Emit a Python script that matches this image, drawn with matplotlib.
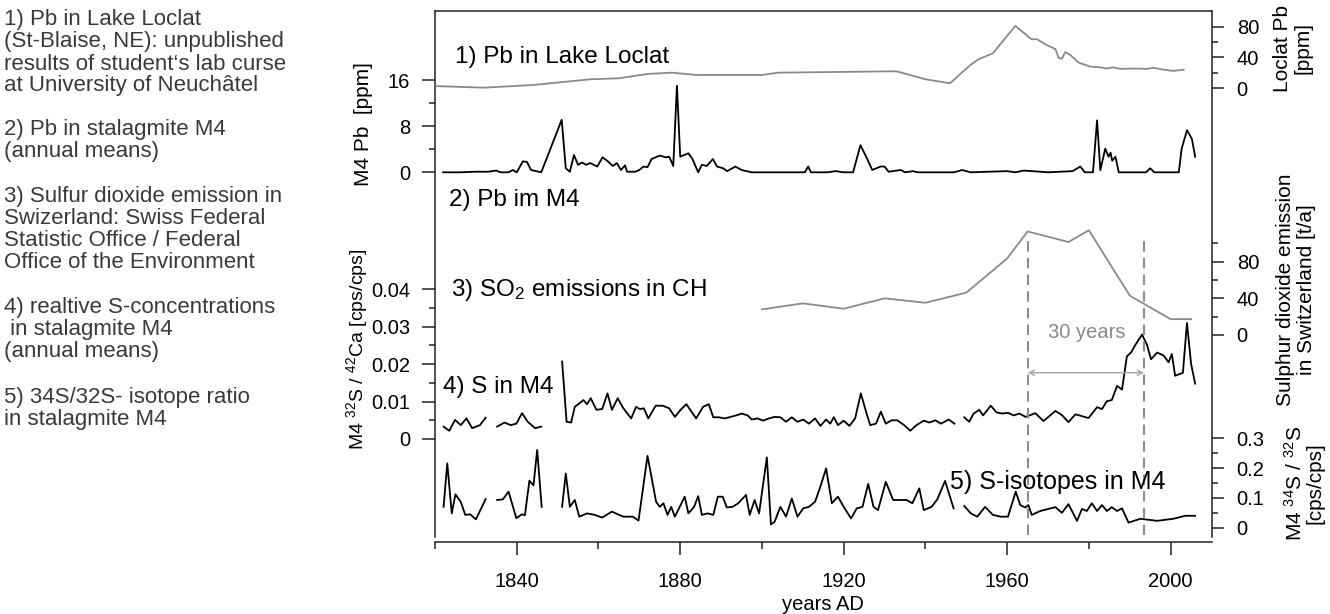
import numpy as np
import matplotlib
matplotlib.use('Agg')
import matplotlib.pyplot as plt
from matplotlib.ticker import FixedLocator, NullFormatter, FixedFormatter

plt.rcParams['font.family'] = ['Liberation Sans', 'DejaVu Sans']
plt.rcParams['mathtext.fontset'] = 'custom'
plt.rcParams['mathtext.rm'] = 'Liberation Sans'
plt.rcParams['mathtext.it'] = 'Liberation Sans:italic'
plt.rcParams['mathtext.bf'] = 'Liberation Sans:bold'

# ---------------- data ----------------
# 1) Pb in Lake Loclat [ppm]
loclat_years = [1820, 1832, 1844, 1858, 1865, 1872, 1878, 1884, 1900, 1904, 1931, 1933,
                1940, 1946, 1951, 1953, 1956.5, 1962, 1966, 1967.3, 1969.7, 1971.8, 1972.6,
                1973.4, 1974.2, 1975.4, 1977.5, 1980.3, 1982.8, 1984.4, 1986, 1987.7, 1991,
                1994.2, 1995.8, 1998.3, 2000.7, 2003.2]
loclat_pb = [2.9, 0.8, 4.3, 11.7, 13, 18.6, 20.3, 17.3, 17.3, 20.3, 22, 22,
             11.7, 6.5, 30.3, 37.7, 45.4, 81, 63.7, 63.8, 56, 51, 39.4,
             38.4, 47, 43.5, 33.3, 28.2, 27.2, 25.7, 27.2, 25.2, 25.7,
             25.2, 26.6, 24.2, 22.6, 24.2]

# 2) Pb in stalagmite M4 [ppm]
m4pb_years = [1822, 1826, 1830, 1833, 1835, 1836, 1838, 1839, 1840, 1841.5, 1842.5, 1843.5,
              1846, 1851, 1852, 1853, 1854, 1855, 1856, 1857, 1858, 1859.7, 1861, 1862.3,
              1863.5, 1864.5, 1865.5, 1866.5, 1867, 1869, 1870, 1871, 1872, 1873, 1875,
              1876.5, 1877.3, 1878.3, 1879.2, 1880, 1882, 1883, 1884.4, 1885.3, 1886.5,
              1888, 1889, 1890.5, 1891.5, 1893.5, 1895, 1897.5, 1910.5, 1911.3, 1912, 1916,
              1918, 1920, 1922.3, 1924.1, 1925.5, 1927, 1929, 1930, 1931, 1934, 1935, 1937,
              1938, 1947, 1949, 1951, 1960, 1962, 1964, 1970, 1976, 1977.9, 1979, 1981, 1982,
              1982.8, 1984, 1984.8, 1985.3, 1985.7, 1986.5, 1987.3, 1994, 1995, 1996, 2002,
              2002.7, 2004, 2005.2, 2006]
m4pb_vals = [0, 0, 0.1, 0.1, 0.3, 0, 0, 0.4, 0, 1.9, 1.8, 0.4,
             0, 9.1, 0.7, 0.1, 3.0, 1.3, 1.7, 1.3, 1.6, 1.0, 2.6, 1.9,
             1.1, 1.6, 0.4, 1.2, 0.1, 0.1, 0.4, 1.0, 0.9, 2.3, 2.9,
             2.6, 2.7, 1.1, 15.0, 2.7, 3.3, 2.3, 0, 1.3, 1.1,
             2.3, 1.0, 0.7, 0.2, 1.0, 0.4, 0, 0, 1.0, 0, 0,
             0.2, 0, 0, 4.7, 2.7, 0.4, 1.0, 1.0, 0.1, 0.4, 0, 0.2,
             0, 0, 0.4, 0, 0.2, 0, 0.3, 0, 0.2, 1.0, 0, 0, 9.0,
             0.35, 4.1, 2.7, 3.4, 2.0, 2.7, 0, 0, 0.7, 0, 0,
             4.1, 7.3, 5.8, 2.7]

# 3) SO2 emissions in Switzerland [t/a]
so2_years = [1900, 1910, 1920, 1930, 1940, 1950, 1960, 1965, 1975, 1980, 1990, 1992.5, 2000, 2005]
so2_vals = [28, 34.5, 28.7, 40, 35.2, 46.2, 83.6, 113, 101.5, 114.3, 43, 36.5, 17.3, 17.3]

# 4) S in M4, 32S/42Ca [cps/cps]  (NaN = gap)
s_years = [1822.1, 1823.5, 1824.9, 1826.3, 1827.7, 1829.1, 1831, 1832.4, np.nan,
           1835.2, 1837, 1838.5, 1839.9, 1841.3, 1842.7, 1844.5, 1846, np.nan,
           1851.1, 1852.2, 1853.3, 1854.2, 1855.3, 1856.3, 1857.2, 1858.1, 1859.5, 1860.9,
           1862.2, 1863.3, 1864.7, 1866.1, 1868.0, 1869.2, 1870.1, 1871.1, 1872.2, 1874.0,
           1875.7, 1877.3, 1878.7, 1880.1, 1881.5, 1883.9, 1885.6, 1887.0, 1888.1, 1889.5,
           1890.9, 1892.3, 1893.7, 1895.1, 1896.5, 1897.5, 1898.9, 1900.3, 1901.7, 1903.1,
           1904.5, 1905.9, 1907.3, 1908.7, 1910.1, 1911.5, 1913.0, 1914.3, 1915.7, 1916.7,
           1917.6, 1918.6, 1920.0, 1921.4, 1922.8, 1924.2, 1925.6, 1926.5, 1927.9, 1929.1,
           1930.3, 1931.7, 1933.1, 1934.8, 1936.3, 1937.8, 1939.6, 1941.0, 1942.4, 1943.8,
           1945.7, 1947.1, np.nan,
           1949.5, 1950.7, 1951.8, 1953.2, 1954.1, 1956.0, 1957.4, 1958.8, 1960.2, 1961.6,
           1963.0, 1964.5, 1966.9, 1968.9, 1971.8, 1973.4, 1975, 1976.7, 1979.9, 1982,
           1983.2, 1984.4, 1985.6, 1986.9, 1988.1, 1989.3, 1990.3, 1991.4, 1993, 1994.2,
           1995.2, 1996.7, 1998.3, 1999.5, 2000.3, 2001.1, 2003, 2004, 2005, 2006]
s_vals = [0.0033, 0.0022, 0.0051, 0.0037, 0.0055, 0.0029, 0.0037, 0.0057, np.nan,
          0.0033, 0.0044, 0.0037, 0.0041, 0.0069, 0.0046, 0.0029, 0.0033, np.nan,
          0.0207, 0.0046, 0.0044, 0.0086, 0.0095, 0.0104, 0.0093, 0.0109, 0.0078, 0.0080,
          0.0122, 0.0078, 0.0109, 0.0082, 0.0055, 0.0086, 0.0080, 0.0082, 0.0055, 0.0089,
          0.0089, 0.0082, 0.0059, 0.0078, 0.0093, 0.0055, 0.0086, 0.0093, 0.0058, 0.0058,
          0.0055, 0.0059, 0.0063, 0.0068, 0.0063, 0.0052, 0.0055, 0.0049, 0.0055, 0.0059,
          0.0058, 0.0046, 0.0058, 0.0046, 0.0052, 0.0041, 0.0055, 0.0035, 0.0052, 0.0041,
          0.0058, 0.0037, 0.0049, 0.0035, 0.0055, 0.0122, 0.0068, 0.0037, 0.0041, 0.0073,
          0.0041, 0.0050, 0.0050, 0.0037, 0.0022, 0.0037, 0.0049, 0.0044, 0.0050, 0.0041,
          0.0052, 0.0041, np.nan,
          0.0058, 0.0046, 0.0068, 0.0078, 0.0063, 0.0089, 0.0071, 0.0068, 0.0070, 0.0063,
          0.0068, 0.0059, 0.0069, 0.0048, 0.0075, 0.0064, 0.0045, 0.0066, 0.0056, 0.0085,
          0.0080, 0.0101, 0.0104, 0.0142, 0.0132, 0.0221, 0.0231, 0.0252, 0.0279, 0.0252,
          0.0213, 0.0231, 0.0223, 0.0205, 0.0227, 0.0169, 0.0177, 0.0310, 0.0201, 0.0148]

# 5) 34S/32S isotope ratio in M4 [cps/cps]  (NaN = gap)
iso_years = [1822.1, 1823, 1824.1, 1825, 1826.3, 1827.4, 1828.6, 1830, 1832.4, np.nan,
             1835.2, 1836.6, 1838, 1839.9, 1841.3, 1842, 1843.1, 1844.1, 1845, 1846.1, np.nan,
             1851.1, 1852.0, 1853.0, 1854.2, 1855.3, 1857.2, 1859.1, 1860.9, 1863.3, 1864.7,
             1866.1, 1868.4, 1869.8, 1872.0, 1874.1, 1875.0, 1875.9, 1876.9, 1877.8, 1878.7,
             1879.7, 1881.1, 1882.0, 1883.4, 1884.4, 1885.3, 1886.7, 1888.1, 1889.2, 1890.4,
             1891.4, 1892.8, 1894.2, 1896.1, 1897.0, 1898.2, 1899.3, 1901.2, 1902.2, 1903.1,
             1904.5, 1905.9, 1907.3, 1908.7, 1910.1, 1911.5, 1913.0, 1914.3, 1915.7, 1917.1,
             1918.6, 1920.0, 1921.8, 1923.2, 1924.6, 1926.0, 1927.3, 1928.4, 1930.3, 1932.1,
             1933.5, 1935.4, 1936.8, 1938.5, 1939.6, 1941.5, 1942.9, 1944.8, 1946.9, np.nan,
             1949.5, 1951.1, 1952.7, 1954.6, 1956.5, 1958.4, 1960.2, 1962.1, 1963.2, 1964.4,
             1965.2, 1966, 1968.1, 1970.1, 1971.8, 1973.4, 1975, 1977.1, 1978.3, 1979.5,
             1980.7, 1982, 1983.2, 1984.4, 1985.6, 1986.9, 1988.1, 1989.7, 1992.6, 1996.7,
             2000.7, 2003.6, 2006]
iso_vals = [0.070, 0.216, 0.048, 0.112, 0.087, 0.043, 0.045, 0.028, 0.096, np.nan,
            0.093, 0.095, 0.121, 0.032, 0.045, 0.042, 0.158, 0.142, 0.261, 0.070, np.nan,
            0.070, 0.182, 0.070, 0.093, 0.037, 0.048, 0.043, 0.034, 0.054, 0.045,
            0.037, 0.037, 0.024, 0.241, 0.087, 0.070, 0.082, 0.043, 0.070, 0.037,
            0.065, 0.104, 0.048, 0.070, 0.106, 0.043, 0.048, 0.043, 0.104, 0.104,
            0.068, 0.070, 0.082, 0.110, 0.043, 0.093, 0.048, 0.236, 0.011, 0.020,
            0.070, 0.037, 0.098, 0.037, 0.065, 0.070, 0.087, 0.138, 0.199, 0.082,
            0.104, 0.070, 0.031, 0.065, 0.070, 0.147, 0.070, 0.059, 0.154, 0.093,
            0.093, 0.093, 0.082, 0.132, 0.059, 0.070, 0.095, 0.157, 0.065, np.nan,
            0.073, 0.048, 0.037, 0.070, 0.043, 0.037, 0.037, 0.121, 0.076, 0.068,
            0.076, 0.043, 0.056, 0.063, 0.069, 0.050, 0.079, 0.023, 0.063, 0.056,
            0.082, 0.056, 0.076, 0.056, 0.069, 0.056, 0.065, 0.017, 0.030, 0.023,
            0.030, 0.040, 0.040]

dash_years = [1965, 1993.5]

x_major = [1840, 1880, 1920, 1960, 2000]
x_minor = [1820, 1860, 1900, 1940, 1980]

left_text = [
    ["1) Pb in Lake Loclat", "(St-Blaise, NE): unpublished",
     "results of student\u2018s lab curse", "at University of Neuch\u00e2tel"],
    ["2) Pb in stalagmite M4", "(annual means)"],
    ["3) Sulfur dioxide emission in", "Swizerland: Swiss Federal",
     "Statistic Office / Federal", "Office of the Environment"],
    ["4) realtive S-concentrations", " in stalagmite M4", "(annual means)"],
    ["5) 34S/32S- isotope ratio", "in stalagmite M4"],
]

# ---------------- layout (pixel geometry) ----------------
W, H = 1330, 614
fig = plt.figure(figsize=(W / 100, H / 100), dpi=100)
PL, PR, PT, PB = 435, 1211.5, 11, 536.7
rect = [PL / W, 1 - PB / H, (PR - PL) / W, (PB - PT) / H]


def fx(x):
    return x / W


def fy(y):
    return 1 - y / H


def ylim_from(v0, p0, v1, p1):
    s = (p0 - p1) / (v1 - v0)
    return v0 - (PB - p0) / s, v0 + (p0 - PT) / s


def afrac(y):
    return (PB - y) / (PB - PT)


SPINE = '#222222'
GRAY = '#8a8a8a'
TICK_FS = 14.5
PX = 0.72  # points per pixel

ax = fig.add_axes(rect)
ax.set_xlim(1820, 2010)
for sp in ['left', 'top', 'right', 'bottom']:
    ax.spines[sp].set_color(SPINE)
    ax.spines[sp].set_linewidth(1.1)
ax.spines['bottom'].set_position(('outward', 5.6 * PX))
ax.xaxis.set_major_locator(FixedLocator(x_major))
ax.xaxis.set_minor_locator(FixedLocator(x_minor))
ax.xaxis.set_minor_formatter(NullFormatter())
ax.tick_params(axis='x', which='major', length=12.7 * PX, width=1.1, pad=12.5,
               labelsize=TICK_FS, color=SPINE)
ax.tick_params(axis='x', which='minor', length=6.7 * PX, width=1.1, color=SPINE)

# M4 Pb on base axes (left)
ax.set_ylim(*ylim_from(0, 172.3, 16, 80))
ax.yaxis.set_major_locator(FixedLocator([0, 8, 16]))
ax.yaxis.set_minor_locator(FixedLocator([4, 12]))
ax.tick_params(axis='y', which='major', length=13 * PX, width=1.1, pad=8.5,
               labelsize=TICK_FS, color=SPINE)
ax.tick_params(axis='y', which='minor', length=6 * PX, width=1.1, color=SPINE)
ax.plot(m4pb_years, m4pb_vals, color='black', lw=1.3)


def overlay(side):
    a = fig.add_axes(rect, frameon=False)
    a.set_xlim(1820, 2010)
    a.tick_params(axis='x', which='both', bottom=False, labelbottom=False)
    a.patch.set_visible(False)
    if side == 'right':
        a.yaxis.tick_right()
    return a


# S/Ca (left)
ax_s = overlay('left')
ax_s.set_ylim(*ylim_from(0, 439, 0.04, 289.3))
ax_s.yaxis.set_major_locator(FixedLocator([0, 0.01, 0.02, 0.03, 0.04]))
ax_s.yaxis.set_major_formatter(FixedFormatter(['0', '0.01', '0.02', '0.03', '0.04']))
ax_s.yaxis.set_minor_locator(FixedLocator([0.005, 0.015, 0.025, 0.035]))
ax_s.tick_params(axis='y', which='major', length=13 * PX, width=1.1, pad=8.5,
                 labelsize=TICK_FS, color=SPINE)
ax_s.tick_params(axis='y', which='minor', length=6 * PX, width=1.1, color=SPINE)
ax_s.plot(s_years, s_vals, color='black', lw=1.3)

# Loclat (right)
ax_l = overlay('right')
ax_l.set_ylim(*ylim_from(0, 88.3, 80, 26.7))
ax_l.yaxis.set_major_locator(FixedLocator([0, 40, 80]))
ax_l.yaxis.set_minor_locator(FixedLocator([20, 60]))
ax_l.tick_params(axis='y', which='major', length=12 * PX, width=1.1, pad=9.5,
                 labelsize=TICK_FS, color=SPINE)
ax_l.tick_params(axis='y', which='minor', length=6 * PX, width=1.1, color=SPINE)
ax_l.plot(loclat_years, loclat_pb, color=GRAY, lw=1.3)

# SO2 (right)
ax_o = overlay('right')
ax_o.set_ylim(*ylim_from(0, 335, 80, 261.7))
ax_o.yaxis.set_major_locator(FixedLocator([0, 40, 80]))
ax_o.yaxis.set_minor_locator(FixedLocator([20, 60, 100]))
ax_o.tick_params(axis='y', which='major', length=12 * PX, width=1.1, pad=9.5,
                 labelsize=TICK_FS, color=SPINE)
ax_o.tick_params(axis='y', which='minor', length=6 * PX, width=1.1, color=SPINE)
ax_o.plot(so2_years, so2_vals, color=GRAY, lw=1.3)

# Isotopes (right)
ax_i = overlay('right')
ax_i.set_ylim(*ylim_from(0, 527.7, 0.3, 438.3))
ax_i.yaxis.set_major_locator(FixedLocator([0, 0.1, 0.2, 0.3]))
ax_i.yaxis.set_major_formatter(FixedFormatter(['0', '0.1', '0.2', '0.3']))
ax_i.yaxis.set_minor_locator(FixedLocator([0.05, 0.15, 0.25]))
ax_i.tick_params(axis='y', which='major', length=12 * PX, width=1.1, pad=9.5,
                 labelsize=TICK_FS, color=SPINE)
ax_i.tick_params(axis='y', which='minor', length=6 * PX, width=1.1, color=SPINE)
ax_i.plot(iso_years, iso_vals, color='black', lw=1.3)

# dashed guide lines and 30-year arrow
for yr in dash_years:
    ax_i.axvline(yr, ymin=afrac(535), ymax=afrac(236), color='#8c8c8c', lw=1.5,
                 linestyle=(0, (5, 3)))
ax_i.annotate('', xy=(dash_years[1], afrac(372.7)), xytext=(dash_years[0], afrac(372.7)),
              xycoords=('data', 'axes fraction'), textcoords=('data', 'axes fraction'),
              arrowprops=dict(arrowstyle='<->', color='#aaaaaa', lw=1.1,
                              shrinkA=0, shrinkB=0, mutation_scale=9))
fig.text(fx(1086.7), fy(332.8), '30 years', color='#8a8a8a', fontsize=14.5,
         ha='center', va='center')

# panel labels
PANEL_FS = 17.5
fig.text(fx(454.9), fy(57), '1) Pb in Lake Loclat', fontsize=PANEL_FS, ha='left', va='center')
fig.text(fx(449), fy(200), '2) Pb im M4', fontsize=PANEL_FS, ha='left', va='center')
fig.text(fx(451), fy(290), r'3) SO$\mathregular{_2}$ emissions in CH', fontsize=PANEL_FS,
         ha='left', va='center')
fig.text(fx(443.4), fy(386.7), '4) S in M4', fontsize=PANEL_FS, ha='left', va='center')
fig.text(fx(950.5), fy(481.7), '5) S-isotopes in M4', fontsize=18, ha='left', va='center')

# axis labels
LAB_FS = 15
fig.text(fx(363), fy(124), 'M4 Pb  [ppm]', rotation=90, fontsize=LAB_FS, ha='center', va='center')
fig.text(fx(357), fy(349), r'M4 $\mathregular{^{32}}$S / $\mathregular{^{42}}$Ca [cps/cps]',
         rotation=90, fontsize=14, ha='center', va='center')
fig.text(fx(1292.5), fy(48), 'Loclat Pb\n[ppm]', rotation=90, fontsize=LAB_FS,
         ha='center', va='center', multialignment='center', linespacing=1.1)
fig.text(fx(1296), fy(290), 'Sulphur dioxide emission\nin Switzerland [t/a]', rotation=90,
         fontsize=LAB_FS, ha='center', va='center', multialignment='center', linespacing=1.1)
fig.text(fx(1304), fy(483), 'M4 $\\mathregular{^{34}}$S / $\\mathregular{^{32}}$S\n[cps/cps]',
         rotation=90, fontsize=LAB_FS, ha='center', va='center', multialignment='center',
         linespacing=1.0)
fig.text(fx((PL + PR) / 2), fy(605), 'years AD', fontsize=TICK_FS, ha='center', va='center')

# left description block
para_tops = [20, 130, 197, 308, 397]
LINE_H = 22
for lines, y0 in zip(left_text, para_tops):
    for k, line in enumerate(lines):
        fig.text(fx(4), fy(y0 + k * LINE_H), line, fontsize=16, color='#3a3a3a',
                 ha='left', va='center')

fig.savefig('out.png', dpi=100)
